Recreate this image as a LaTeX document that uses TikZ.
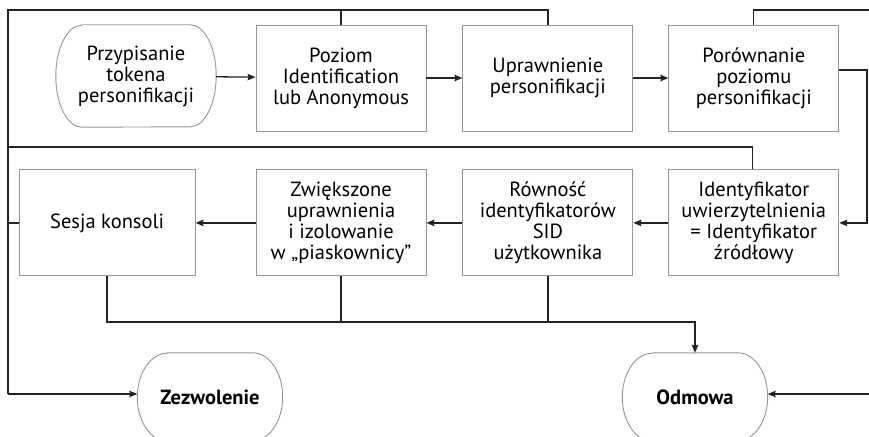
\documentclass[tikz,border=0pt]{standalone}
\usepackage{fontspec}
\setmainfont{PT Sans}
\usepackage{tikz}
\usetikzlibrary{arrows.meta,positioning,calc}
\definecolor{IMPgray}{RGB}{150,150,150}
\definecolor{IMPline}{RGB}{35,35,35}
\tikzset{
  box/.style={draw=IMPgray,line width=0.9pt,fill=white,text=black,align=center,
              inner sep=2pt,font=\fontsize{20.5}{21}\selectfont,
              minimum width=170pt,minimum height=106pt},
  term/.style={draw=none,text=black,align=center,inner sep=2pt,
               font=\fontsize{20.5}{21}\selectfont,minimum width=145pt,minimum height=88pt},
  termline/.style={draw=IMPgray,line width=0.9pt},
  fl/.style={-{Stealth[length=8pt,width=6.5pt,inset=1pt]},line width=1.3pt,draw=IMPline},
  ln/.style={line width=1.3pt,draw=IMPline}
}

\begin{document}
\begin{tikzpicture}[x=1pt,y=-1pt,node distance=36pt]
  \useasboundingbox (0,0) rectangle (869,436);
  % first row
  \node[term,minimum width=160pt,minimum height=102pt] (tok) at (136,76) {Przypisanie\\tokena\\personifikacji};
  \node[box] (lvl) at (341,78) {Poziom\\Identification\\lub Anonymous};
  \node[box,right=of lvl] (priv) {Uprawnienie\\personifikacji};
  \node[box,right=35pt of priv] (cmp) {Porównanie\\poziomu\\personifikacji};
  % second row
  \node[box,below=38pt of cmp] (auth) {Identyfikator\\uwierzytelnienia\\= Identyfikator\\źródłowy};
  \node[box,left=35pt of auth] (sid) {Równość\\identyfikatorów\\SID\\użytkownika};
  \node[box,left=of sid] (sbx) {Zwiększone\\uprawnienia\\i izolowanie\\w „piaskownicy”};
  \node[box,minimum width=176pt,left=60pt of sbx] (ses) {Sesja konsoli};
  % results
  \node[term,font=\fontsize{20.5}{21}\selectfont\bfseries] (allow) at (210,397) {Zezwolenie};
  \node[term,font=\fontsize{20.5}{21}\selectfont\bfseries] (deny) at (695,397) {Odmowa};
  \foreach \t/\rx/\ry in {tok/26pt/51pt,allow/30pt/44pt,deny/30pt/44pt}
    \draw[termline] ($(\t.north west)+(\rx,0)$) -- ($(\t.north east)-(\rx,0)$)
      arc[start angle=90,end angle=-90,x radius=\rx,y radius=\ry]
      -- ($(\t.south west)+(\rx,0)$)
      arc[start angle=270,end angle=90,x radius=\rx,y radius=\ry] -- cycle;
  % bus coordinates
  \coordinate (tl) at (8,10);
  \coordinate (ml) at (8,147);
  \coordinate (bl) at (8,394);
  \coordinate (tr) at (880,10);
  \coordinate (br) at (880,394);
  \coordinate (rv) at (867,0);
  \coordinate (bot) at (0,322);
  % main flow
  \draw[fl] (tok) -- (lvl); \draw[fl] (lvl) -- (priv); \draw[fl] (priv) -- (cmp);
  \draw[fl] ([yshift=8pt]cmp.east) -| (rv |- auth) -- (auth.east);
  \draw[fl] (auth) -- (sid); \draw[fl] (sid) -- (sbx); \draw[fl] (sbx) -- (ses);
  % to Zezwolenie
  \draw[ln] (lvl.north) |- (tl) -- (bl);
  \draw[fl] (bl) -- (bl -| allow.west);
  \draw[ln] (priv.north) |- (lvl.north |- tl);
  \draw[ln] ([xshift=-1pt]auth.north) |- (ml);
  \draw[ln] (ses.west) -- (ses.west -| tl);
  % to Odmowa
  \draw[ln] (cmp.north) |- (tr);
  \draw[fl] (ses.south) |- (deny.north |- bot) -- (deny.north);
  \draw[ln] (sbx.south) -- (sbx.south |- bot);
  \draw[ln] (sid.south) -- (sid.south |- bot);
  \draw[fl] (br) -- (br -| deny.east);
\end{tikzpicture}
\end{document}
